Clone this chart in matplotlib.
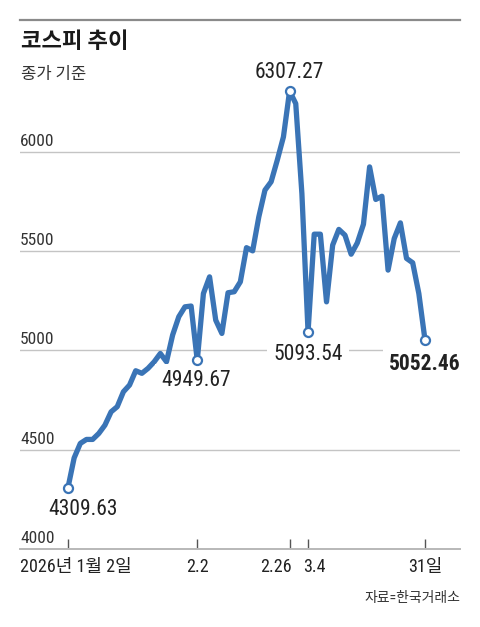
import matplotlib
matplotlib.use('Agg')
import matplotlib.pyplot as plt
import matplotlib.transforms as mtransforms
from matplotlib import font_manager

# KOSPI closing values, trading days 2026-01-02 .. 2026-03-31
kospi = [4309.63, 4459, 4532, 4552, 4552, 4582, 4624, 4691, 4717, 4792,
         4826, 4898, 4885, 4910, 4943, 4985, 4943, 5078, 5170, 5220,
         5224, 4949.67, 5287, 5371, 5153, 5086, 5291, 5296, 5346, 5518,
         5502, 5673, 5808, 5850, 5959, 6076, 6307.27, 6244, 5790, 5093.54,
         5586, 5586, 5245, 5531, 5610, 5581, 5485, 5542, 5636, 5925,
         5761, 5777, 5405, 5564, 5643, 5464, 5442, 5287, 5052.46]

tick_idx = [0, 21, 36, 39, 58]
tick_labels = ['2026년 1월 2일', '2.2', '2.26', '3.4', '31일']
y_ticks = [4000, 4500, 5000, 5500, 6000]
marked_idx = [0, 21, 36, 39, 58]

LINE = '#3a74b6'
GRID = '#c4c4c4'
TXT = '#222222'

names = {f.name for f in font_manager.fontManager.ttflist}
num_font = 'Liberation Sans'
for cand in ['Roboto Condensed', 'Liberation Sans Narrow']:
    if cand in names:
        num_font = cand
        break
FAM = [num_font, 'Noto Sans CJK KR', 'DejaVu Sans']
KFAM = ['Noto Sans CJK KR', 'DejaVu Sans']

W, H = 480, 627
fig = plt.figure(figsize=(W / 100, H / 100), dpi=100)
fig.patch.set_facecolor('white')

# axes: x pixel 20..460, y pixel 549 (4000) .. 80
ax = fig.add_axes([20 / W, (H - 549) / H, 440 / W, 469 / H])
px_day = (425 - 68) / 58
ax.set_xlim(-(68 - 20) / px_day, 58 + (460 - 425) / px_day)
ax.set_ylim(4000, 4000 + 2000 * 469 / 397)
for s in ['top', 'right', 'left']:
    ax.spines[s].set_visible(False)
ax.spines['bottom'].set_color('#b8b8b8')
ax.spines['bottom'].set_linewidth(1.4)
ax.set_yticks([])
ax.set_xticks(tick_idx)
ax.set_xticklabels([])
ax.tick_params(axis='x', direction='in', length=7, width=1, color='#555555')

for v in y_ticks[1:]:
    ax.axhline(v, color=GRID, lw=1, zorder=1)

ylab_tr = mtransforms.blended_transform_factory(ax.transAxes, ax.transData)
for v in y_ticks:
    ax.annotate(str(v), xy=(0, v), xycoords=ylab_tr, xytext=(0, 3),
                textcoords='offset pixels', ha='left', va='bottom',
                fontsize=12.5, family=FAM, color='#333333', annotation_clip=False)

# x labels
xlab_tr = mtransforms.blended_transform_factory(ax.transData, ax.transAxes)
x_ha = ['left', 'center', 'right', 'left', 'center']
x_dx = [0, 0, 2, -5, 0]
for i, (t, lab) in enumerate(zip(tick_idx, tick_labels)):
    if i == 0:
        ax.annotate(lab, xy=(0, 0), xycoords='axes fraction', xytext=(0, -18),
                    textcoords='offset pixels', ha='left', va='center',
                    fontsize=13, family=FAM, color=TXT, annotation_clip=False)
    else:
        ax.annotate(lab, xy=(t, 0), xycoords=xlab_tr, xytext=(x_dx[i], -18),
                    textcoords='offset pixels', ha=x_ha[i], va='center',
                    fontsize=13, family=FAM, color=TXT, annotation_clip=False)

x = list(range(len(kospi)))
ax.plot(x, kospi, color=LINE, lw=3.8, solid_joinstyle='round',
        solid_capstyle='round', zorder=3)
ax.plot([x[i] for i in marked_idx], [kospi[i] for i in marked_idx], 'o',
        ms=6.5, mfc='white', mec=LINE, mew=1.6, zorder=5, clip_on=False)

lab_off = [(15, -22), (-1, -20), (0, 19), (0, -23), (0, -24)]
for k, i in enumerate(marked_idx):
    bold = (i == len(kospi) - 1)
    ax.annotate(f'{kospi[i]:.2f}', xy=(i, kospi[i]), xytext=lab_off[k],
                textcoords='offset pixels', ha='center', va='center',
                fontsize=15.5, family=FAM, color=TXT,
                fontweight='bold' if bold else 'normal',
                bbox=dict(boxstyle='square,pad=0.3', fc='white', ec='none'),
                zorder=4, annotation_clip=False)

# header
fig.add_artist(plt.Line2D([20 / W, 460 / W], [(H - 20) / H] * 2,
                          color='#8a8a8a', lw=1.6))
fig.text(21 / W, (H - 42) / H, '코스피 추이', ha='left', va='center',
         fontsize=16, fontweight='bold', family=KFAM, color='#1a1a1a')
fig.text(21 / W, (H - 75) / H, '종가 기준', ha='left', va='center',
         fontsize=12, family=KFAM, color='#333333')
fig.text(460 / W, (H - 598) / H, '자료=한국거래소', ha='right', va='center',
         fontsize=10, family=FAM, color='#333333')

fig.savefig('out.png', dpi=100, facecolor='white')
